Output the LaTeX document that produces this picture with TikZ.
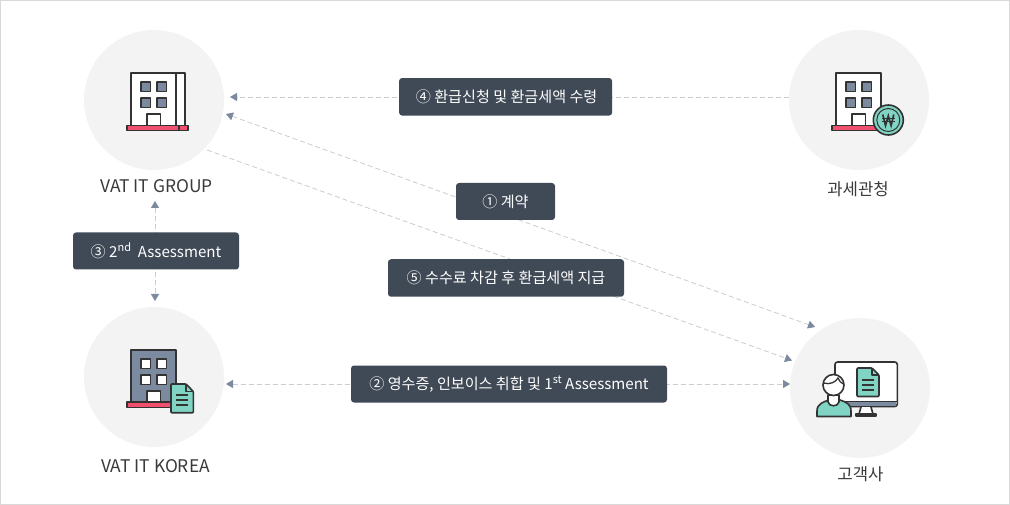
\documentclass[tikz,border=0pt]{standalone}
\usepackage{fontspec}
\setmainfont{Noto Sans CJK KR}
\usetikzlibrary{arrows.meta}
\definecolor{boxc}{HTML}{404A57}
\definecolor{linec}{HTML}{C8CDD3}
\definecolor{tipc}{HTML}{7B8A9E}
\definecolor{circ}{HTML}{F3F3F3}
\definecolor{ink}{HTML}{333333}
\definecolor{pinkc}{HTML}{F0506E}
\definecolor{tealc}{HTML}{80D4C4}
\definecolor{labelc}{HTML}{3A3A3A}
\tikzset{
  disc/.style={circle,fill=circ,minimum size=140pt,inner sep=0pt},
  tag/.style={fill=boxc,rounded corners=3pt,text=white,inner sep=0pt,font=\fontsize{15.1}{17}\selectfont,anchor=center},
  caption/.style={text=labelc,font=\fontsize{17.4}{19}\selectfont,inner sep=0pt},
  kocaption/.style={text=labelc,font=\fontsize{16.7}{19}\selectfont,inner sep=0pt},
  flow/.style={draw=linec,line width=.8pt,dash pattern=on 5pt off 3pt},
  headend/.style={-{Triangle[length=7pt,width=8pt,color=tipc]}},
  headboth/.style={{Triangle[length=7pt,width=8pt,color=tipc]}-{Triangle[length=7pt,width=8pt,color=tipc]}},
  icon/.style={draw=ink,line width=1.6pt,line join=round},
}
\newcommand{\sups}[1]{\raisebox{.38em}{\fontsize{11}{11}\selectfont #1}}
\begin{document}
\begin{tikzpicture}[x=1pt,y=-1pt]
\useasboundingbox (0,0) rectangle (1010,505);
\draw[draw=black!15,line width=1pt,fill=white] (.5,.5) rectangle (1009.5,504.5);
% discs
\node[disc] (grp) at (154,100) {};
\node[disc] (tax) at (859,100) {};
\node[disc] (kor) at (154,377) {};
\node[disc] (cus) at (860,388) {};
% connector ends
\coordinate (a4l) at (230,97);
\coordinate (a4r) at (789,97);
\coordinate (a1s) at (226,114);
\coordinate (a1e) at (815,327);
\coordinate (a5s) at (207,150);
\coordinate (a5e) at (792,360.5);
\coordinate (a2l) at (226,384);
\coordinate (a2r) at (790,384);
\coordinate (a3t) at (155,201);
\coordinate (a3b) at (155,301);
% connectors
\draw[flow,headend] (a4r) -- (a4l);
\draw[flow,headboth] (a1s) -- (a1e);
\draw[flow,headend] (a5s) -- (a5e);
\draw[flow,headboth] (a2l) -- (a2r);
\draw[flow,headboth] (a3t) -- (a3b);
% labels
\node[tag,minimum width=213pt,minimum height=37.5pt] (l4) at (505.6,96.8) {\hspace{2pt}④ 환급신청 및 환금세액 수령};
\node[tag,minimum width=99pt,minimum height=37pt] (l1) at (505.5,201.5) {① 계약};
\node[tag,minimum width=236pt,minimum height=37.5pt] (l5) at (506,278) {⑤ 수수료 차감 후 환급세액 지급};
\node[tag,minimum width=316pt,minimum height=37pt] (l2) at (509,384) {② 영수증, 인보이스 취합 및 1\sups{st} Assessment};
\node[tag,minimum width=166pt,minimum height=37pt] (l3) at (156,251) {③ 2\sups{nd}\ \ Assessment};
% captions
\node[caption] (c1) at (156.5,186.5) {VAT IT GROUP};
\node[kocaption] (c2) at (858,189.5) {과세관청};
\node[caption] (c3) at (155.5,466.5) {VAT IT KOREA};
\node[kocaption] (c4) at (860.5,474.5) {고객사};
% building 1
\draw[icon,fill=white] (131,126) -- (131,73) -- (185,73) -- (185,126);
\draw[icon] (176,73) -- (176,126);
\foreach \xx in {141,157} \foreach \yy in {82,98}
  \draw[icon,fill=tipc] (\xx,\yy) rectangle ++(9.5,9.5);
\draw[icon,fill=white] (147,126) -- (147,114) -- (160.5,114) -- (160.5,126);
\draw[icon,fill=pinkc] (127,125.5) rectangle (188,130.5);
\draw[icon] (179,125.5) -- (179,130.5);
% building 2 with coin
\draw[icon,fill=white] (836,126) -- (836,73) -- (881,73) -- (881,126);
\foreach \xx in {846,862} \foreach \yy in {82,98}
  \draw[icon,fill=tipc] (\xx,\yy) rectangle ++(9.5,9.5);
\draw[icon,fill=white] (852,126) -- (852,114) -- (865.5,114) -- (865.5,126);
\draw[icon,fill=pinkc] (832,125.5) rectangle (880,130.5);
\draw[icon,fill=tealc] (888.3,120) circle (15);
\draw[draw=ink,line width=1pt] (888.3,120) circle (11.5);
\draw[draw=ink,line width=1.7pt] (882.8,114.5) -- (885.5,125.5) -- (888.3,116) -- (891.1,125.5) -- (893.8,114.5);
\draw[draw=ink,line width=1.1pt] (881.5,118.5) -- (895,118.5) (881.5,121.5) -- (895,121.5);
% building 3 with document
\draw[icon,fill=tipc] (131,402) -- (131,350) -- (176,350) -- (176,402);
\foreach \xx in {141,157} \foreach \yy in {359,375}
  \draw[icon,fill=white] (\xx,\yy) rectangle ++(9.5,9.5);
\draw[icon,fill=white] (147,402) -- (147,391) -- (160.5,391) -- (160.5,402);
\draw[icon,fill=pinkc] (127,402) rectangle (176,407.5);
\draw[icon,fill=tealc,rounded corners=.8pt] (171,384) -- (186,384) -- (193.3,391.5) -- (193.3,412.7) -- (171,412.7) -- cycle;
\draw[icon,line width=1.2pt] (186,384) -- (186,391.5) -- (193.3,391.5);
\draw[draw=ink,line width=1.3pt] (176,395) -- (188,395) (176,400) -- (188,400) (176,405) -- (188,405);
% customer
\draw[icon,fill=white,rounded corners=2.5pt] (835,362) rectangle (897.3,406.5);
\draw[draw=none,fill=tipc] (842,402) rectangle (896.4,405.7);
\draw[draw=ink,line width=1.2pt] (838,401.5) -- (896.5,401.5);
\draw[icon,fill=white] (861,407) -- (859,414) -- (873,414) -- (871,407);
\draw[icon,fill=white] (856,414) rectangle (876,416);
\draw[icon,fill=tealc,rounded corners=1pt] (857,368) -- (872,368) -- (879,375) -- (879,396.5) -- (857,396.5) -- cycle;
\draw[icon,line width=1.2pt] (872,368) -- (872,375) -- (879,375);
\draw[draw=ink,line width=1.3pt] (862,380) -- (874,380) (862,385) -- (874,385) (862,390) -- (874,390);
\draw[icon,fill=tealc] (817,416.5) -- (817,411) .. controls (817,404) and (823,402) .. (829,400) -- (840,400) .. controls (846,402) and (851,404) .. (851,411) -- (851,416.5) -- cycle;
\draw[icon,fill=white] (828,395) -- (828,402) .. controls (829,407) and (838,407) .. (839,402) -- (839,395) -- cycle;
\draw[icon,fill=white] (833.5,385) circle (10.5);
\draw[draw=ink,line width=1.3pt] (823.5,383) .. controls (830,385) and (836,382) .. (838,378) .. controls (839,381) and (841,383) .. (843.5,384);
\end{tikzpicture}
\end{document}
